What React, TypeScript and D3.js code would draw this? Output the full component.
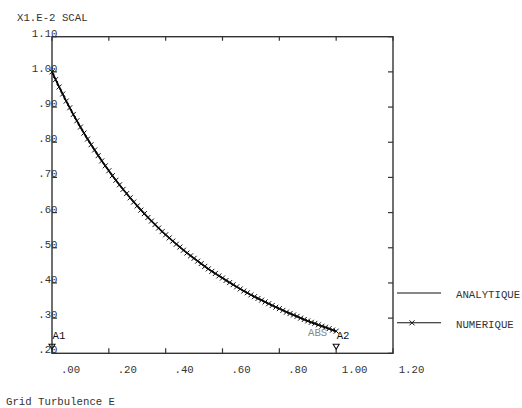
import React from "react";
import * as d3 from "d3";

// ---- data ----
const xTicks = [0, 0.2, 0.4, 0.6, 0.8, 1.0, 1.2];
const xTickLabels = [".00", ".20", ".40", ".60", ".80", "1.00", "1.20"];
const yTicks = [0.2, 0.3, 0.4, 0.5, 0.6, 0.7, 0.8, 0.9, 1.0, 1.1];
const yTickLabels = [".20", ".30", ".40", ".50", ".60", ".70", ".80", ".90", "1.00", "1.10"];

const analytiqueX = [0, 0.05, 0.1, 0.15, 0.2, 0.25, 0.3, 0.35, 0.4, 0.45, 0.5, 0.55, 0.6, 0.65, 0.7, 0.75, 0.8, 0.85, 0.9, 0.95, 1.0];
const analytiqueY = [1.0, 0.917, 0.843, 0.778, 0.719, 0.666, 0.619, 0.576, 0.537, 0.502, 0.47, 0.44, 0.414, 0.389, 0.366, 0.346, 0.327, 0.309, 0.292, 0.277, 0.263];

const numeriqueX = [
  0, 0.0125, 0.025, 0.0375, 0.05, 0.0625, 0.075, 0.0875, 0.1, 0.1125, 0.125, 0.1375, 0.15, 0.1625, 0.175, 0.1875,
  0.2, 0.2125, 0.225, 0.2375, 0.25, 0.2625, 0.275, 0.2875, 0.3, 0.3125, 0.325, 0.3375, 0.35, 0.3625, 0.375, 0.3875,
  0.4, 0.4125, 0.425, 0.4375, 0.45, 0.4625, 0.475, 0.4875, 0.5, 0.5125, 0.525, 0.5375, 0.55, 0.5625, 0.575, 0.5875,
  0.6, 0.6125, 0.625, 0.6375, 0.65, 0.6625, 0.675, 0.6875, 0.7, 0.7125, 0.725, 0.7375, 0.75, 0.7625, 0.775, 0.7875,
  0.8, 0.8125, 0.825, 0.8375, 0.85, 0.8625, 0.875, 0.8875, 0.9, 0.9125, 0.925, 0.9375, 0.95, 0.9625, 0.975, 0.9875, 1.0,
];
const numeriqueY = [
  1.0, 0.978, 0.957, 0.937, 0.917, 0.898, 0.879, 0.861, 0.843, 0.826, 0.809, 0.793, 0.778, 0.762, 0.747, 0.733,
  0.719, 0.705, 0.692, 0.679, 0.666, 0.654, 0.642, 0.63, 0.619, 0.607, 0.597, 0.586, 0.576, 0.566, 0.556, 0.546,
  0.537, 0.528, 0.519, 0.51, 0.502, 0.493, 0.485, 0.477, 0.47, 0.462, 0.455, 0.447, 0.44, 0.433, 0.427, 0.42,
  0.414, 0.407, 0.401, 0.395, 0.389, 0.383, 0.377, 0.372, 0.366, 0.361, 0.356, 0.351, 0.346, 0.341, 0.336, 0.331,
  0.327, 0.322, 0.317, 0.313, 0.309, 0.305, 0.3, 0.296, 0.292, 0.288, 0.285, 0.281, 0.277, 0.274, 0.27, 0.266, 0.263,
];

const seriesNames = ["ANALYTIQUE", "NUMERIQUE"];
const pointLabels = ["A1", "A2"];
const pointX = [0, 1.0];

const FONT = "'Courier New', 'Liberation Mono', monospace";
const FS = 10.7;
const AX = "#333";

export default function App() {
  const left = 52, right = 393, top = 36.7, bottom = 353.3;
  const x = d3.scaleLinear().domain([0, 1.2]).range([left, right]);
  const y = d3.scaleLinear().domain([0.2, 1.1]).range([bottom, top]);

  const ana = analytiqueX.map((v, i) => [v, analytiqueY[i]] as [number, number]);
  const num = numeriqueX.map((v, i) => [v, numeriqueY[i]] as [number, number]);
  const line = d3
    .line<[number, number]>()
    .x((d) => x(d[0]))
    .y((d) => y(d[1]))
    .curve(d3.curveMonotoneX);

  const cross = (cx: number, cy: number, k: string) => (
    <path
      key={k}
      d={`M${cx - 2.5},${cy - 2.5}L${cx + 2.5},${cy + 2.5}M${cx - 2.5},${cy + 2.5}L${cx + 2.5},${cy - 2.5}`}
      stroke="#111"
      strokeWidth={1}
      fill="none"
    />
  );

  const legendY = [y(0.4) + 10, y(0.3) + 4.7];

  return (
    <svg
      width={522}
      height={408}
      style={{ position: "absolute", left: 0, top: 0, background: "#fff" }}
      fontFamily={FONT}
      fontSize={FS}
    >
      <text x={17} y={21} fill={AX}>X1.E-2 SCAL</text>

      {/* frame */}
      <rect x={left} y={top} width={right - left} height={bottom - top} fill="none" stroke={AX} strokeWidth={1.4} />

      {/* x ticks */}
      {xTicks.map((t, i) => (
        <g key={"xt" + i}>
          <line x1={x(t)} x2={x(t)} y1={bottom} y2={bottom - 5} stroke={AX} strokeWidth={1.2} />
          <line x1={x(t)} x2={x(t)} y1={top} y2={top + 4} stroke={AX} strokeWidth={1.2} />
          <text x={x(t) + 18.5} y={373} textAnchor="middle" fill={AX}>{xTickLabels[i]}</text>
        </g>
      ))}

      {/* y ticks */}
      {yTicks.map((t, i) => (
        <g key={"yt" + i}>
          <line x1={left} x2={left + 5} y1={y(t)} y2={y(t)} stroke={AX} strokeWidth={1.2} />
          <line x1={right} x2={right - 5} y1={y(t)} y2={y(t)} stroke={AX} strokeWidth={1.2} />
          <text x={57.5} y={y(t)} textAnchor="end" fill={AX}>{yTickLabels[i]}</text>
        </g>
      ))}

      {/* curves */}
      <path d={line(ana) || ""} fill="none" stroke="#000" strokeWidth={1.6} />
      <path d={line(num) || ""} fill="none" stroke="#000" strokeWidth={1.2} />
      {num.map((d, i) => cross(x(d[0]), y(d[1]), "m" + i))}

      {/* point markers */}
      {pointX.map((px, i) => (
        <g key={"p" + i}>
          <path
            d={`M${x(px) - 3},${bottom - 9}L${x(px) + 3},${bottom - 9}L${x(px)},${bottom - 4}Z`}
            fill="none"
            stroke="#111"
            strokeWidth={1.1}
          />
          <text x={x(px) + 0.5} y={338.5} fill="#111">{pointLabels[i]}</text>
        </g>
      ))}
      <text x={308} y={336} fill="#888">ABS</text>

      {/* legend */}
      {seriesNames.map((name, i) => (
        <g key={"lg" + i}>
          <line x1={397} x2={441} y1={legendY[i]} y2={legendY[i]} stroke="#111" strokeWidth={1.1} />
          {i === 1 && cross(412, legendY[i], "lgm")}
          <text x={456} y={legendY[i] + 5.5} fill={AX}>{name}</text>
        </g>
      ))}

      <text x={6} y={405} fill={AX}>Grid Turbulence E</text>
    </svg>
  );
}
